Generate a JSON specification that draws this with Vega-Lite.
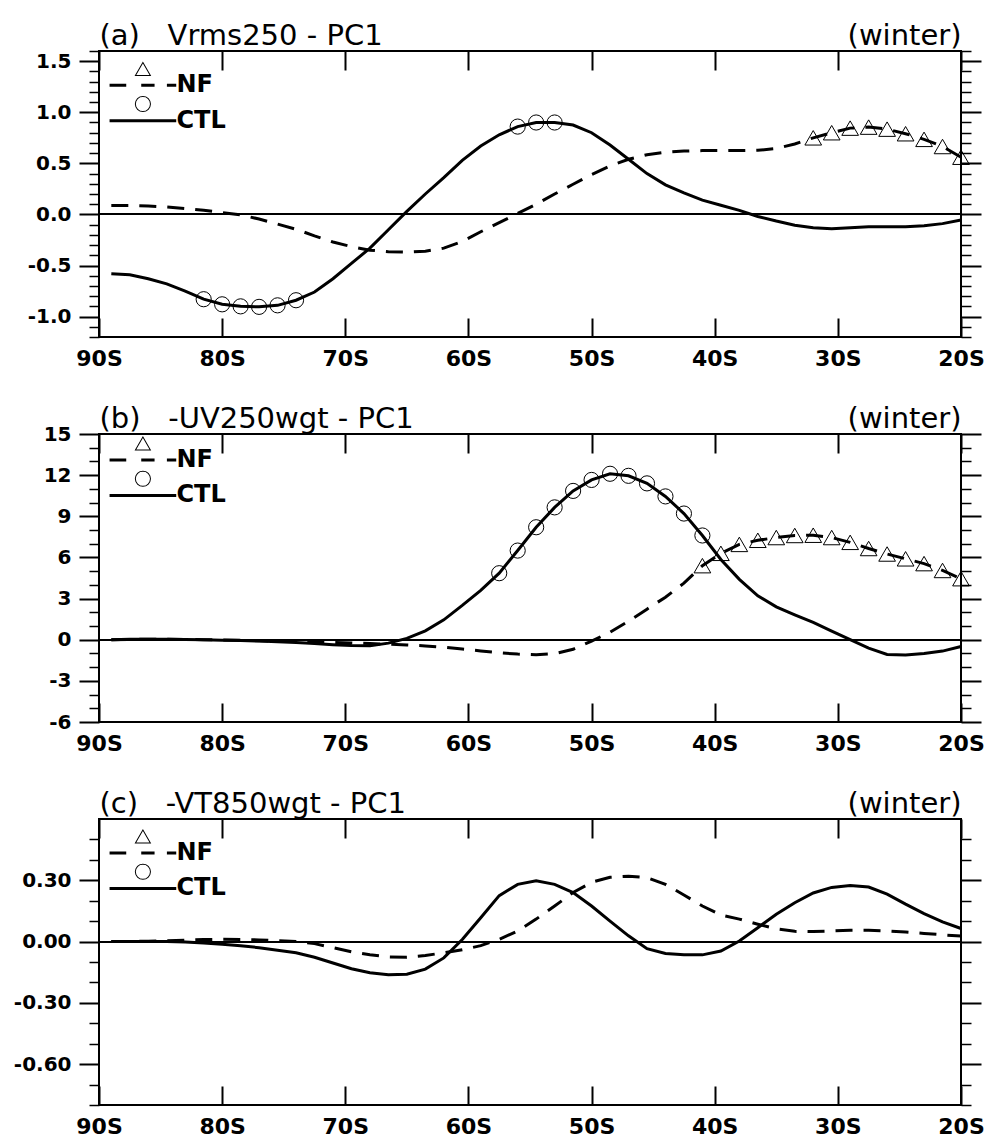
{
  "$schema": "https://vega.github.io/schema/vega-lite/v6.json",
  "background": "white",
  "padding": {"left": 12, "top": 20, "right": 5, "bottom": 5},
  "config": {
    "font": "DejaVu Sans",
    "view": {"stroke": "black", "strokeWidth": 2},
    "axis": {"grid": false, "domain": false, "tickColor": "black", "labelColor": "black", "titleColor": "black", "labelFont": "DejaVu Sans", "labelFontSize": 20, "labelFontWeight": "bold", "titleFont": "DejaVu Sans", "titleFontSize": 29, "titleFontWeight": "normal", "labelFlush": false, "labelOverlap": false, "labelBound": false, "minExtent": 0},
    "legend": {"orient": "none", "direction": "vertical", "title": null, "padding": 0, "rowPadding": -1.6, "symbolSize": 100, "symbolStrokeWidth": 0, "symbolStrokeColor": "transparent", "symbolFillColor": "black", "symbolOpacity": 1, "labelFont": "DejaVu Sans", "labelFontSize": 24, "labelFontWeight": "bold", "labelColor": "black", "labelOffset": 21.5, "symbolOffset": 0, "labelLimit": 300}
  },
  "spacing": 97,
  "bounds": "flush",
  "resolve": {"scale": {"shape": "independent"}, "legend": {"shape": "independent"}},
  "datasets": {
    "a": [
      {"lat":-89,"value":-0.58,"series":"CTL","sig":0},{"lat":-87.5,"value":-0.59,"series":"CTL","sig":0},{"lat":-86,"value":-0.63,"series":"CTL","sig":0},{"lat":-84.5,"value":-0.68,"series":"CTL","sig":0},{"lat":-83,"value":-0.75,"series":"CTL","sig":0},{"lat":-81.5,"value":-0.83,"series":"CTL","sig":1},{"lat":-80,"value":-0.88,"series":"CTL","sig":1},{"lat":-78.5,"value":-0.9,"series":"CTL","sig":1},{"lat":-77,"value":-0.905,"series":"CTL","sig":1},{"lat":-75.5,"value":-0.89,"series":"CTL","sig":1},{"lat":-74,"value":-0.84,"series":"CTL","sig":1},{"lat":-72.5,"value":-0.76,"series":"CTL","sig":0},{"lat":-71,"value":-0.63,"series":"CTL","sig":0},{"lat":-69.5,"value":-0.48,"series":"CTL","sig":0},{"lat":-68,"value":-0.33,"series":"CTL","sig":0},{"lat":-66.5,"value":-0.15,"series":"CTL","sig":0},{"lat":-65,"value":0.03,"series":"CTL","sig":0},{"lat":-63.5,"value":0.2,"series":"CTL","sig":0},{"lat":-62,"value":0.36,"series":"CTL","sig":0},{"lat":-60.5,"value":0.53,"series":"CTL","sig":0},{"lat":-59,"value":0.67,"series":"CTL","sig":0},{"lat":-57.5,"value":0.78,"series":"CTL","sig":0},{"lat":-56,"value":0.86,"series":"CTL","sig":1},{"lat":-54.5,"value":0.9,"series":"CTL","sig":1},{"lat":-53,"value":0.9,"series":"CTL","sig":1},{"lat":-51.5,"value":0.875,"series":"CTL","sig":0},{"lat":-50,"value":0.8,"series":"CTL","sig":0},{"lat":-48.5,"value":0.68,"series":"CTL","sig":0},{"lat":-47,"value":0.54,"series":"CTL","sig":0},{"lat":-45.5,"value":0.4,"series":"CTL","sig":0},{"lat":-44,"value":0.29,"series":"CTL","sig":0},{"lat":-42.5,"value":0.21,"series":"CTL","sig":0},{"lat":-41,"value":0.14,"series":"CTL","sig":0},{"lat":-39.5,"value":0.09,"series":"CTL","sig":0},{"lat":-38,"value":0.04,"series":"CTL","sig":0},{"lat":-36.5,"value":-0.02,"series":"CTL","sig":0},{"lat":-35,"value":-0.065,"series":"CTL","sig":0},{"lat":-33.5,"value":-0.105,"series":"CTL","sig":0},{"lat":-32,"value":-0.13,"series":"CTL","sig":0},{"lat":-30.5,"value":-0.14,"series":"CTL","sig":0},{"lat":-29,"value":-0.13,"series":"CTL","sig":0},{"lat":-27.5,"value":-0.12,"series":"CTL","sig":0},{"lat":-26,"value":-0.12,"series":"CTL","sig":0},{"lat":-24.5,"value":-0.12,"series":"CTL","sig":0},{"lat":-23,"value":-0.11,"series":"CTL","sig":0},{"lat":-21.5,"value":-0.09,"series":"CTL","sig":0},{"lat":-20,"value":-0.055,"series":"CTL","sig":0},
      {"lat":-89,"value":0.088,"series":"NF","sig":0},{"lat":-87.5,"value":0.088,"series":"NF","sig":0},{"lat":-86,"value":0.082,"series":"NF","sig":0},{"lat":-84.5,"value":0.073,"series":"NF","sig":0},{"lat":-83,"value":0.058,"series":"NF","sig":0},{"lat":-81.5,"value":0.04,"series":"NF","sig":0},{"lat":-80,"value":0.018,"series":"NF","sig":0},{"lat":-78.5,"value":-0.005,"series":"NF","sig":0},{"lat":-77,"value":-0.045,"series":"NF","sig":0},{"lat":-75.5,"value":-0.095,"series":"NF","sig":0},{"lat":-74,"value":-0.145,"series":"NF","sig":0},{"lat":-72.5,"value":-0.21,"series":"NF","sig":0},{"lat":-71,"value":-0.27,"series":"NF","sig":0},{"lat":-69.5,"value":-0.315,"series":"NF","sig":0},{"lat":-68,"value":-0.35,"series":"NF","sig":0},{"lat":-66.5,"value":-0.365,"series":"NF","sig":0},{"lat":-65,"value":-0.37,"series":"NF","sig":0},{"lat":-63.5,"value":-0.36,"series":"NF","sig":0},{"lat":-62,"value":-0.33,"series":"NF","sig":0},{"lat":-60.5,"value":-0.265,"series":"NF","sig":0},{"lat":-59,"value":-0.17,"series":"NF","sig":0},{"lat":-57.5,"value":-0.08,"series":"NF","sig":0},{"lat":-56,"value":0.01,"series":"NF","sig":0},{"lat":-54.5,"value":0.1,"series":"NF","sig":0},{"lat":-53,"value":0.2,"series":"NF","sig":0},{"lat":-51.5,"value":0.295,"series":"NF","sig":0},{"lat":-50,"value":0.39,"series":"NF","sig":0},{"lat":-48.5,"value":0.475,"series":"NF","sig":0},{"lat":-47,"value":0.54,"series":"NF","sig":0},{"lat":-45.5,"value":0.585,"series":"NF","sig":0},{"lat":-44,"value":0.608,"series":"NF","sig":0},{"lat":-42.5,"value":0.62,"series":"NF","sig":0},{"lat":-41,"value":0.625,"series":"NF","sig":0},{"lat":-39.5,"value":0.625,"series":"NF","sig":0},{"lat":-38,"value":0.625,"series":"NF","sig":0},{"lat":-36.5,"value":0.628,"series":"NF","sig":0},{"lat":-35,"value":0.645,"series":"NF","sig":0},{"lat":-33.5,"value":0.69,"series":"NF","sig":0},{"lat":-32,"value":0.75,"series":"NF","sig":1},{"lat":-30.5,"value":0.8,"series":"NF","sig":1},{"lat":-29,"value":0.845,"series":"NF","sig":1},{"lat":-27.5,"value":0.855,"series":"NF","sig":1},{"lat":-26,"value":0.835,"series":"NF","sig":1},{"lat":-24.5,"value":0.79,"series":"NF","sig":1},{"lat":-23,"value":0.735,"series":"NF","sig":1},{"lat":-21.5,"value":0.665,"series":"NF","sig":1},{"lat":-20,"value":0.56,"series":"NF","sig":1}
    ],
    "b": [
      {"lat":-89,"value":0.0,"series":"CTL","sig":0},{"lat":-87.5,"value":0.03,"series":"CTL","sig":0},{"lat":-86,"value":0.04,"series":"CTL","sig":0},{"lat":-84.5,"value":0.03,"series":"CTL","sig":0},{"lat":-83,"value":0.01,"series":"CTL","sig":0},{"lat":-81.5,"value":-0.01,"series":"CTL","sig":0},{"lat":-80,"value":-0.03,"series":"CTL","sig":0},{"lat":-78.5,"value":-0.06,"series":"CTL","sig":0},{"lat":-77,"value":-0.1,"series":"CTL","sig":0},{"lat":-75.5,"value":-0.15,"series":"CTL","sig":0},{"lat":-74,"value":-0.2,"series":"CTL","sig":0},{"lat":-72.5,"value":-0.28,"series":"CTL","sig":0},{"lat":-71,"value":-0.36,"series":"CTL","sig":0},{"lat":-69.5,"value":-0.42,"series":"CTL","sig":0},{"lat":-68,"value":-0.44,"series":"CTL","sig":0},{"lat":-66.5,"value":-0.25,"series":"CTL","sig":0},{"lat":-65,"value":0.1,"series":"CTL","sig":0},{"lat":-63.5,"value":0.65,"series":"CTL","sig":0},{"lat":-62,"value":1.45,"series":"CTL","sig":0},{"lat":-60.5,"value":2.5,"series":"CTL","sig":0},{"lat":-59,"value":3.6,"series":"CTL","sig":0},{"lat":-57.5,"value":4.85,"series":"CTL","sig":1},{"lat":-56,"value":6.5,"series":"CTL","sig":1},{"lat":-54.5,"value":8.2,"series":"CTL","sig":1},{"lat":-53,"value":9.65,"series":"CTL","sig":1},{"lat":-51.5,"value":10.85,"series":"CTL","sig":1},{"lat":-50,"value":11.65,"series":"CTL","sig":1},{"lat":-48.5,"value":12.1,"series":"CTL","sig":1},{"lat":-47,"value":11.95,"series":"CTL","sig":1},{"lat":-45.5,"value":11.4,"series":"CTL","sig":1},{"lat":-44,"value":10.45,"series":"CTL","sig":1},{"lat":-42.5,"value":9.2,"series":"CTL","sig":1},{"lat":-41,"value":7.6,"series":"CTL","sig":1},{"lat":-39.5,"value":5.85,"series":"CTL","sig":0},{"lat":-38,"value":4.4,"series":"CTL","sig":0},{"lat":-36.5,"value":3.2,"series":"CTL","sig":0},{"lat":-35,"value":2.4,"series":"CTL","sig":0},{"lat":-33.5,"value":1.82,"series":"CTL","sig":0},{"lat":-32,"value":1.26,"series":"CTL","sig":0},{"lat":-30.5,"value":0.62,"series":"CTL","sig":0},{"lat":-29,"value":0.0,"series":"CTL","sig":0},{"lat":-27.5,"value":-0.62,"series":"CTL","sig":0},{"lat":-26,"value":-1.07,"series":"CTL","sig":0},{"lat":-24.5,"value":-1.12,"series":"CTL","sig":0},{"lat":-23,"value":-1.0,"series":"CTL","sig":0},{"lat":-21.5,"value":-0.83,"series":"CTL","sig":0},{"lat":-20,"value":-0.5,"series":"CTL","sig":0},
      {"lat":-89,"value":0.0,"series":"NF","sig":0},{"lat":-87.5,"value":0.02,"series":"NF","sig":0},{"lat":-86,"value":0.03,"series":"NF","sig":0},{"lat":-84.5,"value":0.03,"series":"NF","sig":0},{"lat":-83,"value":0.02,"series":"NF","sig":0},{"lat":-81.5,"value":0.0,"series":"NF","sig":0},{"lat":-80,"value":-0.02,"series":"NF","sig":0},{"lat":-78.5,"value":-0.04,"series":"NF","sig":0},{"lat":-77,"value":-0.07,"series":"NF","sig":0},{"lat":-75.5,"value":-0.1,"series":"NF","sig":0},{"lat":-74,"value":-0.13,"series":"NF","sig":0},{"lat":-72.5,"value":-0.17,"series":"NF","sig":0},{"lat":-71,"value":-0.2,"series":"NF","sig":0},{"lat":-69.5,"value":-0.24,"series":"NF","sig":0},{"lat":-68,"value":-0.28,"series":"NF","sig":0},{"lat":-66.5,"value":-0.33,"series":"NF","sig":0},{"lat":-65,"value":-0.38,"series":"NF","sig":0},{"lat":-63.5,"value":-0.45,"series":"NF","sig":0},{"lat":-62,"value":-0.55,"series":"NF","sig":0},{"lat":-60.5,"value":-0.68,"series":"NF","sig":0},{"lat":-59,"value":-0.82,"series":"NF","sig":0},{"lat":-57.5,"value":-0.95,"series":"NF","sig":0},{"lat":-56,"value":-1.05,"series":"NF","sig":0},{"lat":-54.5,"value":-1.1,"series":"NF","sig":0},{"lat":-53,"value":-1.02,"series":"NF","sig":0},{"lat":-51.5,"value":-0.7,"series":"NF","sig":0},{"lat":-50,"value":-0.1,"series":"NF","sig":0},{"lat":-48.5,"value":0.55,"series":"NF","sig":0},{"lat":-47,"value":1.35,"series":"NF","sig":0},{"lat":-45.5,"value":2.23,"series":"NF","sig":0},{"lat":-44,"value":3.1,"series":"NF","sig":0},{"lat":-42.5,"value":4.12,"series":"NF","sig":0},{"lat":-41,"value":5.4,"series":"NF","sig":1},{"lat":-39.5,"value":6.3,"series":"NF","sig":1},{"lat":-38,"value":6.95,"series":"NF","sig":1},{"lat":-36.5,"value":7.25,"series":"NF","sig":1},{"lat":-35,"value":7.45,"series":"NF","sig":1},{"lat":-33.5,"value":7.6,"series":"NF","sig":1},{"lat":-32,"value":7.62,"series":"NF","sig":1},{"lat":-30.5,"value":7.45,"series":"NF","sig":1},{"lat":-29,"value":7.1,"series":"NF","sig":1},{"lat":-27.5,"value":6.65,"series":"NF","sig":1},{"lat":-26,"value":6.25,"series":"NF","sig":1},{"lat":-24.5,"value":5.9,"series":"NF","sig":1},{"lat":-23,"value":5.55,"series":"NF","sig":1},{"lat":-21.5,"value":5.05,"series":"NF","sig":1},{"lat":-20,"value":4.45,"series":"NF","sig":1}
    ],
    "c": [
      {"lat":-89,"value":0.0,"series":"CTL","sig":0},{"lat":-87.5,"value":0.0,"series":"CTL","sig":0},{"lat":-86,"value":0.0,"series":"CTL","sig":0},{"lat":-84.5,"value":0.0,"series":"CTL","sig":0},{"lat":-83,"value":-0.002,"series":"CTL","sig":0},{"lat":-81.5,"value":-0.007,"series":"CTL","sig":0},{"lat":-80,"value":-0.013,"series":"CTL","sig":0},{"lat":-78.5,"value":-0.02,"series":"CTL","sig":0},{"lat":-77,"value":-0.03,"series":"CTL","sig":0},{"lat":-75.5,"value":-0.042,"series":"CTL","sig":0},{"lat":-74,"value":-0.055,"series":"CTL","sig":0},{"lat":-72.5,"value":-0.077,"series":"CTL","sig":0},{"lat":-71,"value":-0.105,"series":"CTL","sig":0},{"lat":-69.5,"value":-0.133,"series":"CTL","sig":0},{"lat":-68,"value":-0.153,"series":"CTL","sig":0},{"lat":-66.5,"value":-0.162,"series":"CTL","sig":0},{"lat":-65,"value":-0.16,"series":"CTL","sig":0},{"lat":-63.5,"value":-0.135,"series":"CTL","sig":0},{"lat":-62,"value":-0.08,"series":"CTL","sig":0},{"lat":-60.5,"value":0.01,"series":"CTL","sig":0},{"lat":-59,"value":0.117,"series":"CTL","sig":0},{"lat":-57.5,"value":0.225,"series":"CTL","sig":0},{"lat":-56,"value":0.28,"series":"CTL","sig":0},{"lat":-54.5,"value":0.297,"series":"CTL","sig":0},{"lat":-53,"value":0.28,"series":"CTL","sig":0},{"lat":-51.5,"value":0.24,"series":"CTL","sig":0},{"lat":-50,"value":0.174,"series":"CTL","sig":0},{"lat":-48.5,"value":0.1,"series":"CTL","sig":0},{"lat":-47,"value":0.028,"series":"CTL","sig":0},{"lat":-45.5,"value":-0.035,"series":"CTL","sig":0},{"lat":-44,"value":-0.058,"series":"CTL","sig":0},{"lat":-42.5,"value":-0.065,"series":"CTL","sig":0},{"lat":-41,"value":-0.065,"series":"CTL","sig":0},{"lat":-39.5,"value":-0.046,"series":"CTL","sig":0},{"lat":-38,"value":0.003,"series":"CTL","sig":0},{"lat":-36.5,"value":0.068,"series":"CTL","sig":0},{"lat":-35,"value":0.134,"series":"CTL","sig":0},{"lat":-33.5,"value":0.19,"series":"CTL","sig":0},{"lat":-32,"value":0.238,"series":"CTL","sig":0},{"lat":-30.5,"value":0.265,"series":"CTL","sig":0},{"lat":-29,"value":0.275,"series":"CTL","sig":0},{"lat":-27.5,"value":0.267,"series":"CTL","sig":0},{"lat":-26,"value":0.232,"series":"CTL","sig":0},{"lat":-24.5,"value":0.183,"series":"CTL","sig":0},{"lat":-23,"value":0.137,"series":"CTL","sig":0},{"lat":-21.5,"value":0.096,"series":"CTL","sig":0},{"lat":-20,"value":0.064,"series":"CTL","sig":0},
      {"lat":-89,"value":0.0,"series":"NF","sig":0},{"lat":-87.5,"value":0.0,"series":"NF","sig":0},{"lat":-86,"value":0.002,"series":"NF","sig":0},{"lat":-84.5,"value":0.004,"series":"NF","sig":0},{"lat":-83,"value":0.007,"series":"NF","sig":0},{"lat":-81.5,"value":0.01,"series":"NF","sig":0},{"lat":-80,"value":0.011,"series":"NF","sig":0},{"lat":-78.5,"value":0.01,"series":"NF","sig":0},{"lat":-77,"value":0.008,"series":"NF","sig":0},{"lat":-75.5,"value":0.004,"series":"NF","sig":0},{"lat":-74,"value":0.0,"series":"NF","sig":0},{"lat":-72.5,"value":-0.01,"series":"NF","sig":0},{"lat":-71,"value":-0.03,"series":"NF","sig":0},{"lat":-69.5,"value":-0.05,"series":"NF","sig":0},{"lat":-68,"value":-0.065,"series":"NF","sig":0},{"lat":-66.5,"value":-0.075,"series":"NF","sig":0},{"lat":-65,"value":-0.077,"series":"NF","sig":0},{"lat":-63.5,"value":-0.068,"series":"NF","sig":0},{"lat":-62,"value":-0.055,"series":"NF","sig":0},{"lat":-60.5,"value":-0.04,"series":"NF","sig":0},{"lat":-59,"value":-0.02,"series":"NF","sig":0},{"lat":-57.5,"value":0.011,"series":"NF","sig":0},{"lat":-56,"value":0.052,"series":"NF","sig":0},{"lat":-54.5,"value":0.11,"series":"NF","sig":0},{"lat":-53,"value":0.174,"series":"NF","sig":0},{"lat":-51.5,"value":0.24,"series":"NF","sig":0},{"lat":-50,"value":0.29,"series":"NF","sig":0},{"lat":-48.5,"value":0.315,"series":"NF","sig":0},{"lat":-47,"value":0.32,"series":"NF","sig":0},{"lat":-45.5,"value":0.313,"series":"NF","sig":0},{"lat":-44,"value":0.28,"series":"NF","sig":0},{"lat":-42.5,"value":0.228,"series":"NF","sig":0},{"lat":-41,"value":0.174,"series":"NF","sig":0},{"lat":-39.5,"value":0.13,"series":"NF","sig":0},{"lat":-38,"value":0.11,"series":"NF","sig":0},{"lat":-36.5,"value":0.085,"series":"NF","sig":0},{"lat":-35,"value":0.062,"series":"NF","sig":0},{"lat":-33.5,"value":0.05,"series":"NF","sig":0},{"lat":-32,"value":0.049,"series":"NF","sig":0},{"lat":-30.5,"value":0.052,"series":"NF","sig":0},{"lat":-29,"value":0.055,"series":"NF","sig":0},{"lat":-27.5,"value":0.055,"series":"NF","sig":0},{"lat":-26,"value":0.052,"series":"NF","sig":0},{"lat":-24.5,"value":0.047,"series":"NF","sig":0},{"lat":-23,"value":0.04,"series":"NF","sig":0},{"lat":-21.5,"value":0.033,"series":"NF","sig":0},{"lat":-20,"value":0.027,"series":"NF","sig":0}
    ]
  },
  "vconcat": [
    {
      "width": 862, "height": 286,
      "data": {"name": "a"},
      "resolve": {"axis": {"x": "independent", "y": "independent"}},
      "layer": [
        {"mark": {"type": "rule", "color": "black", "strokeWidth": 1},
         "encoding": {"y": {"datum": 0, "type": "quantitative", "scale": {"domain": [-1.2, 1.6], "nice": false, "zero": false},
           "axis": {"orient": "left", "values": [-1, -0.5, 0, 0.5, 1, 1.5], "tickSize": 20, "tickWidth": 2, "labelPadding": 8, "labelExpr": "(datum.value < 0 ? '-' : '') + format(abs(datum.value), '.1f')", "title": null}}}},
        {"transform": [{"filter": "datum.series == 'NF'"}],
         "mark": {"type": "line", "color": "black", "strokeWidth": 3, "strokeDash": [17, 11]},
         "encoding": {
           "x": {"field": "lat", "type": "quantitative", "scale": {"domain": [-90, -20], "nice": false, "zero": false},
             "axis": {"orient": "bottom", "values": [-90, -80, -70, -60, -50, -40, -30, -20], "tickSize": -19, "tickWidth": 2, "labelPadding": 30, "labelFontSize": 22, "labelBaseline": "top", "labelExpr": "format(abs(datum.value), 'd') + 'S'", "title": null}},
           "y": {"field": "value", "type": "quantitative", "scale": {"domain": [-1.2, 1.6], "nice": false, "zero": false},
             "axis": {"orient": "left", "values": [-1.2, -1.1, -0.9, -0.8, -0.7, -0.6, -0.4, -0.3, -0.2, -0.1, 0.1, 0.2, 0.3, 0.4, 0.6, 0.7, 0.8, 0.9, 1.1, 1.2, 1.3, 1.4, 1.6], "tickSize": 10, "tickWidth": 1.5, "labels": false, "title": null}}}},
        {"transform": [{"filter": "datum.series == 'CTL'"}],
         "mark": {"type": "line", "color": "black", "strokeWidth": 3},
         "encoding": {
           "x": {"field": "lat", "type": "quantitative", "scale": {"domain": [-90, -20], "nice": false, "zero": false},
             "axis": {"orient": "top", "values": [-90, -80, -70, -60, -50, -40, -30, -20], "tickSize": -19, "tickWidth": 2, "labels": false, "title": "(winter)", "titleAnchor": "end", "titleAlign": "right", "titleBaseline": "alphabetic", "titlePadding": 7, "maxExtent": 0}},
           "y": {"field": "value", "type": "quantitative", "scale": {"domain": [-1.2, 1.6], "nice": false, "zero": false},
             "axis": {"orient": "right", "values": [-1, -0.5, 0, 0.5, 1, 1.5], "tickSize": 20, "tickWidth": 2, "labels": false, "title": null}}}},
        {"transform": [{"filter": "datum.series == 'NF' && datum.sig == 1"}],
         "mark": {"type": "point", "shape": "triangle-up", "size": 279, "filled": false, "color": "black", "strokeWidth": 1, "opacity": 1},
         "encoding": {
           "x": {"field": "lat", "type": "quantitative", "scale": {"domain": [-90, -20], "nice": false, "zero": false},
             "axis": {"orient": "top", "ticks": false, "labels": false, "title": "(a)\u00a0\u00a0\u00a0Vrms250 - PC1", "titleAnchor": "start", "titleAlign": "left", "titleBaseline": "alphabetic", "titlePadding": 7, "maxExtent": 0}},
           "y": {"field": "value", "type": "quantitative", "scale": {"domain": [-1.2, 1.6], "nice": false, "zero": false},
             "axis": {"orient": "right", "values": [-1.2, -1.1, -0.9, -0.8, -0.7, -0.6, -0.4, -0.3, -0.2, -0.1, 0.1, 0.2, 0.3, 0.4, 0.6, 0.7, 0.8, 0.9, 1.1, 1.2, 1.3, 1.4, 1.6], "tickSize": 10, "tickWidth": 1.5, "labels": false, "title": null}}}},
        {"transform": [{"filter": "datum.series == 'CTL' && datum.sig == 1"}],
         "mark": {"type": "point", "shape": "circle", "size": 230, "filled": false, "color": "black", "strokeWidth": 1, "opacity": 1},
         "encoding": {
           "x": {"field": "lat", "type": "quantitative", "scale": {"domain": [-90, -20], "nice": false, "zero": false}, "axis": null},
           "y": {"field": "value", "type": "quantitative", "scale": {"domain": [-1.2, 1.6], "nice": false, "zero": false}, "axis": null}}},
        {"data": {"values": []},
         "mark": {"type": "point", "filled": true, "color": "black", "strokeWidth": 0, "opacity": 1},
         "encoding": {"shape": {"field": "series", "type": "nominal",
           "scale": {"domain": ["NF", "CTL"], "range": ["M-6.667,-0.3L-3.333,-0.3L-3.333,0.3L-6.667,0.3ZM-0.333,-0.3L2.333,-0.3L2.333,0.3L-0.333,0.3ZM4.8,-0.3L6.667,-0.3L6.667,0.3L4.8,0.3ZM0,-4.78L1.667,-1.884L-1.667,-1.884ZM0,-4.38L-1.32,-2.084L1.32,-2.084Z", "M-6.667,-0.3L6.667,-0.3L6.667,0.3L-6.667,0.3ZM1.613,-3.333L1.49,-2.716L1.1406,-2.1924L0.6173,-1.843L0,-1.72L-0.6173,-1.843L-1.1406,-2.1924L-1.49,-2.716L-1.613,-3.333L-1.49,-3.95L-1.1406,-4.4736L-0.6173,-4.823L0,-4.946L0.6173,-4.823L1.1406,-4.4736L1.49,-3.95ZM1.413,-3.333L1.3055,-3.8738L0.9991,-4.3321L0.5408,-4.6745L0,-4.746L-0.5408,-4.6745L-0.9991,-4.3321L-1.3055,-3.8738L-1.413,-3.333L-1.3055,-2.7922L-0.9991,-2.3339L-0.5408,-1.9915L0,-1.92L0.5408,-1.9915L0.9991,-2.3339L1.3055,-2.7922Z"]},
           "legend": {"legendX": 31.9, "legendY": 22.3, "rowPadding": -1.6, "symbolSize": 100, "labelOffset": 21.5}}}}
      ]
    },
    {
      "width": 862, "height": 288,
      "data": {"name": "b"},
      "resolve": {"axis": {"x": "independent", "y": "independent"}},
      "layer": [
        {"mark": {"type": "rule", "color": "black", "strokeWidth": 1},
         "encoding": {"y": {"datum": 0, "type": "quantitative", "scale": {"domain": [-6, 15], "nice": false, "zero": false},
           "axis": {"orient": "left", "values": [-6, -3, 0, 3, 6, 9, 12, 15], "tickSize": 20, "tickWidth": 2, "labelPadding": 8, "labelExpr": "(datum.value < 0 ? '-' : '') + format(abs(datum.value), 'd')", "title": null}}}},
        {"transform": [{"filter": "datum.series == 'NF'"}],
         "mark": {"type": "line", "color": "black", "strokeWidth": 3, "strokeDash": [17, 11]},
         "encoding": {
           "x": {"field": "lat", "type": "quantitative", "scale": {"domain": [-90, -20], "nice": false, "zero": false},
             "axis": {"orient": "bottom", "values": [-90, -80, -70, -60, -50, -40, -30, -20], "tickSize": -19, "tickWidth": 2, "labelPadding": 30, "labelFontSize": 22, "labelBaseline": "top", "labelExpr": "format(abs(datum.value), 'd') + 'S'", "title": null}},
           "y": {"field": "value", "type": "quantitative", "scale": {"domain": [-6, 15], "nice": false, "zero": false},
             "axis": {"orient": "left", "values": [-5, -4, -2, -1, 1, 2, 4, 5, 7, 8, 10, 11, 13, 14], "tickSize": 10, "tickWidth": 1.5, "labels": false, "title": null}}}},
        {"transform": [{"filter": "datum.series == 'CTL'"}],
         "mark": {"type": "line", "color": "black", "strokeWidth": 3},
         "encoding": {
           "x": {"field": "lat", "type": "quantitative", "scale": {"domain": [-90, -20], "nice": false, "zero": false},
             "axis": {"orient": "top", "values": [-90, -80, -70, -60, -50, -40, -30, -20], "tickSize": -19, "tickWidth": 2, "labels": false, "title": "(winter)", "titleAnchor": "end", "titleAlign": "right", "titleBaseline": "alphabetic", "titlePadding": 7, "maxExtent": 0}},
           "y": {"field": "value", "type": "quantitative", "scale": {"domain": [-6, 15], "nice": false, "zero": false},
             "axis": {"orient": "right", "values": [-6, -3, 0, 3, 6, 9, 12, 15], "tickSize": 20, "tickWidth": 2, "labels": false, "title": null}}}},
        {"transform": [{"filter": "datum.series == 'NF' && datum.sig == 1"}],
         "mark": {"type": "point", "shape": "triangle-up", "size": 279, "filled": false, "color": "black", "strokeWidth": 1, "opacity": 1},
         "encoding": {
           "x": {"field": "lat", "type": "quantitative", "scale": {"domain": [-90, -20], "nice": false, "zero": false},
             "axis": {"orient": "top", "ticks": false, "labels": false, "title": "(b)\u00a0\u00a0\u00a0-UV250wgt - PC1", "titleAnchor": "start", "titleAlign": "left", "titleBaseline": "alphabetic", "titlePadding": 7, "maxExtent": 0}},
           "y": {"field": "value", "type": "quantitative", "scale": {"domain": [-6, 15], "nice": false, "zero": false},
             "axis": {"orient": "right", "values": [-5, -4, -2, -1, 1, 2, 4, 5, 7, 8, 10, 11, 13, 14], "tickSize": 10, "tickWidth": 1.5, "labels": false, "title": null}}}},
        {"transform": [{"filter": "datum.series == 'CTL' && datum.sig == 1"}],
         "mark": {"type": "point", "shape": "circle", "size": 230, "filled": false, "color": "black", "strokeWidth": 1, "opacity": 1},
         "encoding": {
           "x": {"field": "lat", "type": "quantitative", "scale": {"domain": [-90, -20], "nice": false, "zero": false}, "axis": null},
           "y": {"field": "value", "type": "quantitative", "scale": {"domain": [-6, 15], "nice": false, "zero": false}, "axis": null}}},
        {"data": {"values": []},
         "mark": {"type": "point", "filled": true, "color": "black", "strokeWidth": 0, "opacity": 1},
         "encoding": {"shape": {"field": "series", "type": "nominal",
           "scale": {"domain": ["NF", "CTL"], "range": ["M-6.667,-0.3L-3.333,-0.3L-3.333,0.3L-6.667,0.3ZM-0.333,-0.3L2.333,-0.3L2.333,0.3L-0.333,0.3ZM4.8,-0.3L6.667,-0.3L6.667,0.3L4.8,0.3ZM0,-4.78L1.667,-1.884L-1.667,-1.884ZM0,-4.38L-1.32,-2.084L1.32,-2.084Z", "M-6.667,-0.3L6.667,-0.3L6.667,0.3L-6.667,0.3ZM1.613,-3.333L1.49,-2.716L1.1406,-2.1924L0.6173,-1.843L0,-1.72L-0.6173,-1.843L-1.1406,-2.1924L-1.49,-2.716L-1.613,-3.333L-1.49,-3.95L-1.1406,-4.4736L-0.6173,-4.823L0,-4.946L0.6173,-4.823L1.1406,-4.4736L1.49,-3.95ZM1.413,-3.333L1.3055,-3.8738L0.9991,-4.3321L0.5408,-4.6745L0,-4.746L-0.5408,-4.6745L-0.9991,-4.3321L-1.3055,-3.8738L-1.413,-3.333L-1.3055,-2.7922L-0.9991,-2.3339L-0.5408,-1.9915L0,-1.92L0.5408,-1.9915L0.9991,-2.3339L1.3055,-2.7922Z"]},
           "legend": {"legendX": 31.9, "legendY": 14, "rowPadding": -1.6, "symbolSize": 100, "labelOffset": 21.5}}}}
      ]
    },
    {
      "width": 862, "height": 286,
      "data": {"name": "c"},
      "resolve": {"axis": {"x": "independent", "y": "independent"}},
      "layer": [
        {"mark": {"type": "rule", "color": "black", "strokeWidth": 1},
         "encoding": {"y": {"datum": 0, "type": "quantitative", "scale": {"domain": [-0.8, 0.6], "nice": false, "zero": false},
           "axis": {"orient": "left", "values": [-0.6, -0.3, 0, 0.3], "tickSize": 20, "tickWidth": 2, "labelPadding": 8, "labelExpr": "(datum.value < 0 ? '-' : '') + format(abs(datum.value), '.2f')", "title": null}}}},
        {"transform": [{"filter": "datum.series == 'NF'"}],
         "mark": {"type": "line", "color": "black", "strokeWidth": 3, "strokeDash": [17, 11]},
         "encoding": {
           "x": {"field": "lat", "type": "quantitative", "scale": {"domain": [-90, -20], "nice": false, "zero": false},
             "axis": {"orient": "bottom", "values": [-90, -80, -70, -60, -50, -40, -30, -20], "tickSize": -19, "tickWidth": 2, "labelPadding": 30, "labelFontSize": 22, "labelBaseline": "top", "labelExpr": "format(abs(datum.value), 'd') + 'S'", "title": null}},
           "y": {"field": "value", "type": "quantitative", "scale": {"domain": [-0.8, 0.6], "nice": false, "zero": false},
             "axis": {"orient": "left", "values": [-0.8, -0.7, -0.5, -0.4, -0.2, -0.1, 0.1, 0.2, 0.4, 0.5], "tickSize": 10, "tickWidth": 1.5, "labels": false, "title": null}}}},
        {"transform": [{"filter": "datum.series == 'CTL'"}],
         "mark": {"type": "line", "color": "black", "strokeWidth": 3},
         "encoding": {
           "x": {"field": "lat", "type": "quantitative", "scale": {"domain": [-90, -20], "nice": false, "zero": false},
             "axis": {"orient": "top", "values": [-90, -80, -70, -60, -50, -40, -30, -20], "tickSize": -19, "tickWidth": 2, "labels": false, "title": "(winter)", "titleAnchor": "end", "titleAlign": "right", "titleBaseline": "alphabetic", "titlePadding": 7, "maxExtent": 0}},
           "y": {"field": "value", "type": "quantitative", "scale": {"domain": [-0.8, 0.6], "nice": false, "zero": false},
             "axis": {"orient": "right", "values": [-0.6, -0.3, 0, 0.3], "tickSize": 20, "tickWidth": 2, "labels": false, "title": null}}}},
        {"transform": [{"filter": "datum.series == 'NF' && datum.sig == 1"}],
         "mark": {"type": "point", "shape": "triangle-up", "size": 279, "filled": false, "color": "black", "strokeWidth": 1, "opacity": 1},
         "encoding": {
           "x": {"field": "lat", "type": "quantitative", "scale": {"domain": [-90, -20], "nice": false, "zero": false},
             "axis": {"orient": "top", "ticks": false, "labels": false, "title": "(c)\u00a0\u00a0\u00a0-VT850wgt - PC1", "titleAnchor": "start", "titleAlign": "left", "titleBaseline": "alphabetic", "titlePadding": 7, "maxExtent": 0}},
           "y": {"field": "value", "type": "quantitative", "scale": {"domain": [-0.8, 0.6], "nice": false, "zero": false},
             "axis": {"orient": "right", "values": [-0.8, -0.7, -0.5, -0.4, -0.2, -0.1, 0.1, 0.2, 0.4, 0.5], "tickSize": 10, "tickWidth": 1.5, "labels": false, "title": null}}}},
        {"data": {"values": []},
         "mark": {"type": "point", "filled": true, "color": "black", "strokeWidth": 0, "opacity": 1},
         "encoding": {"shape": {"field": "series", "type": "nominal",
           "scale": {"domain": ["NF", "CTL"], "range": ["M-6.667,-0.3L-3.333,-0.3L-3.333,0.3L-6.667,0.3ZM-0.333,-0.3L2.333,-0.3L2.333,0.3L-0.333,0.3ZM4.8,-0.3L6.667,-0.3L6.667,0.3L4.8,0.3ZM0,-4.78L1.667,-1.884L-1.667,-1.884ZM0,-4.38L-1.32,-2.084L1.32,-2.084Z", "M-6.667,-0.3L6.667,-0.3L6.667,0.3L-6.667,0.3ZM1.613,-3.333L1.49,-2.716L1.1406,-2.1924L0.6173,-1.843L0,-1.72L-0.6173,-1.843L-1.1406,-2.1924L-1.49,-2.716L-1.613,-3.333L-1.49,-3.95L-1.1406,-4.4736L-0.6173,-4.823L0,-4.946L0.6173,-4.823L1.1406,-4.4736L1.49,-3.95ZM1.413,-3.333L1.3055,-3.8738L0.9991,-4.3321L0.5408,-4.6745L0,-4.746L-0.5408,-4.6745L-0.9991,-4.3321L-1.3055,-3.8738L-1.413,-3.333L-1.3055,-2.7922L-0.9991,-2.3339L-0.5408,-1.9915L0,-1.92L0.5408,-1.9915L0.9991,-2.3339L1.3055,-2.7922Z"]},
           "legend": {"legendX": 31.9, "legendY": 22, "rowPadding": -1.6, "symbolSize": 100, "labelOffset": 21.5}}}}
      ]
    }
  ]
}
